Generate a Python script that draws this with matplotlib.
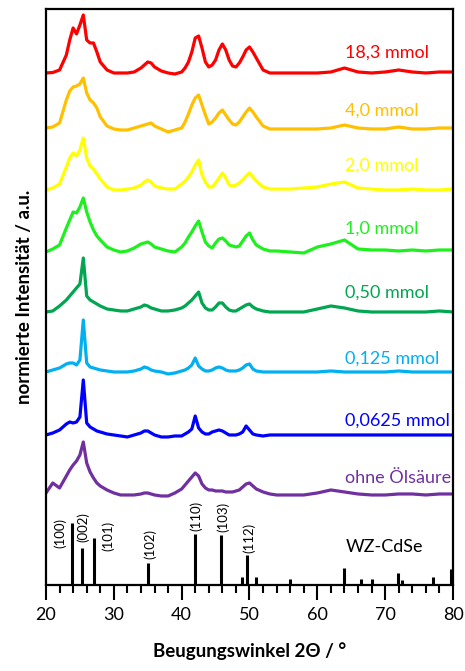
import matplotlib
matplotlib.use("Agg")

import matplotlib.pyplot as plt
from matplotlib.ticker import MultipleLocator

plt.rcParams["font.family"] = ["Lato", "DejaVu Sans"]

# 2-theta grid (deg) shared by all patterns
two_theta = [20, 21, 22, 23, 23.5, 24, 24.5, 25, 25.5, 26, 26.5, 27, 27.5, 28, 29, 30,
             31, 32, 33, 34, 34.5, 35, 35.5, 36, 37, 38, 39, 40, 40.5, 41, 41.5, 42,
             42.5, 43, 43.5, 44, 44.5, 45, 45.5, 46, 46.5, 47, 47.5, 48, 48.5, 49,
             49.5, 50, 50.5, 51, 52, 53, 54, 56, 58, 60, 62, 64, 66, 68, 70, 72, 74,
             76, 78, 80]

# normalised intensities (baseline = 0)
i_18_3 = [0, 0.5, 3, 18, 33, 45, 39, 48, 58, 33, 30, 30, 21, 11, 3, 0,
          0, 0, 1, 5, 8, 11, 10, 6, 2, 0, -1, 1, 5, 11, 21, 35,
          37, 25, 11, 6, 8, 13, 23, 29, 23, 13, 7, 6, 10, 16,
          23, 26, 21, 15, 3, 0, 0, 0, 0, 0, 1, 5, 1, 0, 1, 3, 1,
          0, 1, 1]
i_4_0 = [1, 2, 6, 29, 38, 42, 43, 45, 51, 36, 29, 26, 21, 12, 3, 0,
         -1, -1, 1, 3, 4, 5, 6, 3, 0, -3, -1, 1, 7, 15, 24, 31,
         34, 24, 14, 5, 7, 11, 16, 19, 14, 9, 5, 4, 7, 12,
         17, 21, 17, 12, 3, 0, 0, 0, 0, 0, 1, 4, 1, 0, 0, 2, 0,
         0, 1, 1]
i_2_0 = [0, 2, 6, 23, 32, 37, 34, 40, 52, 32, 24, 21, 16, 11, 3, 0,
         0, 1, 2, 5, 8, 10, 8, 4, 2, 1, 1, 6, 9, 13, 18, 25,
         30, 15, 8, 3, 3, 7, 12, 17, 12, 5, 4, 5, 7, 10,
         14, 17, 13, 9, 3, 1, 1, 1, 2, 3, 6, 8, 2, 1, 0, 0, 1,
         0, 0, 1]
i_1_0 = [0, 3, 7, 24, 32, 40, 39, 45, 54, 40, 30, 22, 16, 12, 5, 2,
         0, 1, 4, 8, 9, 10, 8, 5, 3, 1, 0, 5, 9, 15, 20, 26,
         31, 20, 10, 6, 4, 9, 13, 14, 11, 7, 6, 5, 6, 11,
         16, 19, 12, 7, 3, 1, 1, 0, -1, 5, 8, 12, 3, 2, 2, 1, 2,
         1, 2, 2]
i_0_50 = [0, 1, 6, 12, 16, 20, 24, 28, 54, 16, 12, 10, 8, 6, 3, 2,
          1, 1, 3, 5, 7, 6, 4, 3, 1, 1, 2, 4, 6, 9, 12, 16,
          20, 9, 4, 2, 2, 5, 9, 9, 5, 2, 1, 1, 3, 5,
          7, 8, 5, 3, 1, 0, 0, 0, 0, 3, 6, 4, 1, 0, 0, 0, 0,
          0, 1, 0]
i_0_125 = [0, 2, 4, 8, 9, 9, 7, 12, 52, 9, 5, 4, 3, 2, 1, 0,
           0, 0, 1, 3, 5, 4, 2, 1, 0, -2, -1, 1, 2, 4, 7, 14,
           6, 3, 1, 1, 2, 4, 5, 4, 2, 1, 1, 1, 2, 4,
           7, 8, 3, 1, 0, 0, 0, 0, 0, 0, 1, 0, 0, 0, 0, 1, 0,
           0, 0, 0]
i_0_0625 = [0, 2, 5, 11, 13, 12, 13, 18, 55, 12, 8, 6, 4, 3, 1, 0,
            -1, -2, 0, 2, 4, 4, 2, 0, -2, -2, -1, -1, 1, 3, 6, 19,
            7, 3, 1, 1, 3, 4, 5, 4, 2, 0, 0, 0, 1, 3,
            9, 5, 1, 0, -1, 0, 0, 0, 0, 0, 0, 0, 0, 0, 0, 0, 0,
            0, 0, 0]
i_ohne = [2, 12, 7, 19, 25, 30, 34, 40, 53, 32, 23, 17, 12, 9, 5, 2,
          0, 0, 0, 1, 2, 2, 1, 0, -1, -1, 2, 6, 10, 14, 18, 22,
          19, 11, 7, 5, 5, 4, 4, 4, 3, 3, 3, 4, 5, 8,
          11, 12, 9, 6, 3, 1, 0, 0, 0, 2, 5, 3, 1, 0, 0, 1, 1,
          0, 1, 1]

labels = ["18,3 mmol", "4,0 mmol", "2,0 mmol", "1,0 mmol", "0,50 mmol",
          "0,125 mmol", "0,0625 mmol", "ohne Ölsäure"]
series = [i_18_3, i_4_0, i_2_0, i_1_0, i_0_50, i_0_125, i_0_0625, i_ohne]

# WZ-CdSe reference reflections
ref_pos = [23.9, 25.35, 27.1, 35.1, 42.0, 45.8, 48.9, 49.7, 50.9, 56.0,
           63.9, 66.5, 68.0, 71.9, 72.5, 77.1, 79.7]
ref_int = [62, 37, 47, 22, 51, 50, 8, 30, 8, 6, 17, 6, 6, 12, 5, 8, 16]
hkl = ["(100)", "(002)", "(101)", "(102)", "(110)", "(103)", "(112)"]

colors = ["#ff0000", "#ffc000", "#ffff00", "#1ef01e", "#00a650",
          "#00b0f0", "#0000ff", "#7030a0"]
offsets = [512, 456, 395, 333, 273, 213, 150, 90]
label_dy = [20, 18, 24, 23, 19, 13, 14, 17]

fig = plt.figure(figsize=(4.65, 6.71), dpi=100)
ax = fig.add_axes([0.0989, 0.1282, 0.8753, 0.8584])

for y, c, off, lab, dy in zip(series, colors, offsets, labels, label_dy):
    ax.plot(two_theta, [v + off for v in y], color=c, lw=2.3, solid_joinstyle="round")
    ax.text(64.1, off + dy, lab, color=c, fontsize=13, va="center", ha="left")

# stick pattern of the reference phase
ax.vlines(ref_pos, 0, ref_int, color="black", lw=2.2)
hkl_xy = [(22.06, 52), (25.5, 57.5), (29.2, 49.5), (35.3, 40.5),
          (42.2, 69.5), (46.05, 68.5), (50.0, 47.5)]
for (hx, hy), t in zip(hkl_xy, hkl):
    ax.text(hx, hy, t, rotation=90, fontsize=9.5, ha="center", va="center")
ax.text(64.2, 38, "WZ-CdSe", fontsize=13, ha="left", va="center")

ax.set_xlim(20, 80)
ax.set_ylim(0, 576)
ax.set_yticks([])
ax.xaxis.set_major_locator(MultipleLocator(10))
ax.xaxis.set_minor_locator(MultipleLocator(2))
ax.tick_params(axis="x", which="major", length=11, width=1.5, direction="out",
               labelsize=13, pad=5)
ax.tick_params(axis="x", which="minor", length=6, width=1.5, direction="out")
for s in ax.spines.values():
    s.set_linewidth(1.6)

ax.set_xlabel("Beugungswinkel 2Θ / °", fontsize=13.5, fontweight="bold", labelpad=14)
ax.set_ylabel("normierte Intensität / a.u.", fontsize=13.5, fontweight="bold", labelpad=9)

plt.savefig("out.png", dpi=100)
plt.close()
